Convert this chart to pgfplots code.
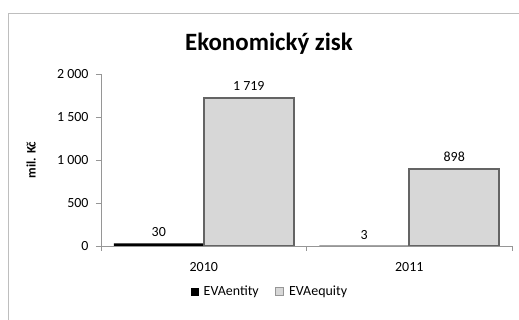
\documentclass[border=0pt]{standalone}
\usepackage{fontspec}
\setmainfont{Carlito}
\usepackage{pgfplots}
\pgfplotsset{compat=1.18}
\definecolor{frame}{RGB}{190,190,190}
\definecolor{axisgray}{RGB}{150,150,150}
\definecolor{barfill}{RGB}{215,215,215}
\definecolor{baredge}{RGB}{100,100,100}
\begin{document}
\begin{tikzpicture}
\useasboundingbox (0,0) rectangle (519bp,320bp);
\draw[frame, line width=1bp] (8.5bp,-5bp) -- (8.5bp,306bp) -- (530bp,306bp);
\node[font=\bfseries\fontsize{25}{28}\selectfont] at (269bp,276bp) {Ekonomický zisk};
\begin{axis}[
  at={(101bp,74bp)}, anchor=south west,
  scale only axis, width=411bp, height=172bp,
  xmin=-0.5, xmax=1.5, ymin=0, ymax=2000,
  ybar=0pt, bar width=90bp,
  axis x line*=bottom, axis y line*=left,
  axis line style={draw=axisgray, line width=0.8bp, -},
  tick style={draw=axisgray, line width=0.8bp},
  tick align=outside, major tick length=5bp,
  ytick={0,500,1000,1500,2000},
  /pgf/number format/assume math mode=true,
  /pgf/number format/1000 sep={\ },
  yticklabel style={font=\fontsize{14}{16}\selectfont, xshift=-4bp},
  xtick={-0.5,0.5,1.5}, xticklabels={,,},
  extra x ticks={0,1}, extra x tick labels={2010,2011},
  extra x tick style={major tick length=0pt, tick label style={yshift=-13bp, font=\fontsize{14}{16}\selectfont}},
  ylabel={\textbf{mil. Kč}},
  ylabel style={at={(axis description cs:-0.17,0.5)}, anchor=center, rotate=0, font=\fontsize{13}{15}\selectfont},
  nodes near coords,
  every node near coord/.append style={font=\fontsize{14}{16}\selectfont, black, yshift=3bp},
  legend style={at={(0.411,-0.267)}, anchor=center, draw=none, fill=none, font=\fontsize{14}{16}\selectfont, /tikz/every even column/.append style={column sep=14bp}},
  legend columns=2,
]
\addplot[fill=black, draw=none,
  legend image code/.code={\fill[black] (0bp,-4bp) rectangle (8bp,4bp); \path (11bp,0bp);}]
  coordinates {(0,30) (1,3)};
\addplot[fill=barfill, draw=baredge, line width=1.8bp,
  legend image code/.code={\draw[barfill!70!black, fill=barfill, line width=1bp] (0bp,-4bp) rectangle (8bp,4bp); \path (11bp,0bp);}]
  coordinates {(0,1719) (1,898)};
\legend{EVAentity,EVAequity}
\end{axis}
\end{tikzpicture}
\end{document}
